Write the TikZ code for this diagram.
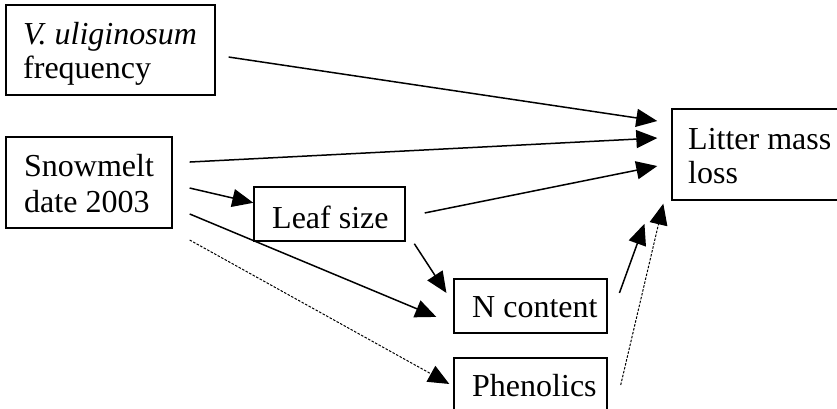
\documentclass[tikz,border=0pt]{standalone}
\usepackage{fontspec}
\setmainfont{Liberation Serif}
\usetikzlibrary{arrows.meta}
\tikzset{
  box/.style={draw, line width=1.4pt, inner sep=0pt},
  txt/.style={inner sep=0pt, anchor=base west, font=\fontsize{32}{35}\selectfont},
  arr/.style={line width=1.5pt, -{Triangle[length=21pt,width=18pt]}},
  darr/.style={line width=1pt, dash pattern=on 2.5pt off 1.5pt, -{Triangle[length=21pt,width=18pt]}}
}
\begin{document}
\begin{tikzpicture}[x=1pt,y=-1pt]
\useasboundingbox (0,0) rectangle (837,409);
% boxes
\node[box, minimum width=209pt, minimum height=90pt] (V) at (110.5,50) {};
\node[box, minimum width=166pt, minimum height=91pt] (S) at (89,182.5) {};
\node[box, minimum width=151pt, minimum height=54pt] (Leaf) at (329.5,214) {};
\node[box, minimum width=153pt, minimum height=54pt] (N) at (530.5,306) {};
\node[box, minimum width=153pt, minimum height=54pt] (P) at (530.5,385) {};
\node[box, minimum width=180pt, minimum height=91pt] (L) at (762,154.5) {};
% texts
\node[txt] (Vt1) at (23,45) {\textit{V. uliginosum}};
\node[txt] (Vt2) at (23,79) {frequency};
\node[txt] (St1) at (24,176) {Snowmelt};
\node[txt] (St2) at (24,212) {date 2003};
\node[txt] (Leaft) at (272,228) {Leaf size};
\node[txt] (Nt) at (472,317) {N content};
\node[txt] (Pt) at (472,396) {Phenolics};
\node[txt] (Lt1) at (688,149) {Litter mass};
\node[txt] (Lt2) at (688,183) {loss};
% connectors
\draw[arr, shorten <=13.1pt, shorten >=14.2pt] ([yshift=-5.1pt]V.east) -- ([yshift=31.4pt]L.west);
\draw[arr, shorten <=17pt, shorten >=14pt] ([yshift=19.6pt]S.east) -- ([yshift=17.2pt]L.west);
\draw[arr, shorten <=17.4pt] ([yshift=-1.6pt]S.east) -- ([yshift=11.2pt]Leaf.west);
\draw[arr, shorten <=18.4pt, shorten >=18.4pt] ([yshift=-24.4pt]S.east) -- ([yshift=-18pt]N.west);
\draw[darr, shorten <=19.4pt, shorten >=4.6pt] ([yshift=-48.1pt]S.east) -- ([yshift=-1.2pt]P.west);
\draw[arr, shorten <=19.4pt, shorten >=14.3pt] ([yshift=-2.8pt]Leaf.east) -- ([yshift=-8.7pt]L.west);
\draw[arr, shorten <=2.4pt, shorten >=12.6pt] ([xshift=7.3pt]Leaf.south east) -- ([yshift=2.5pt]N.west);
\draw[arr, shorten <=34.5pt, shorten >=24.5pt] ([yshift=-19.4pt]N.east) -- ([xshift=-18.5pt]L.south west);
\draw[darr, shorten >=3.1pt] ([xshift=13pt]P.east) -- ([xshift=-7.3pt]L.south west);
\end{tikzpicture}
\end{document}
